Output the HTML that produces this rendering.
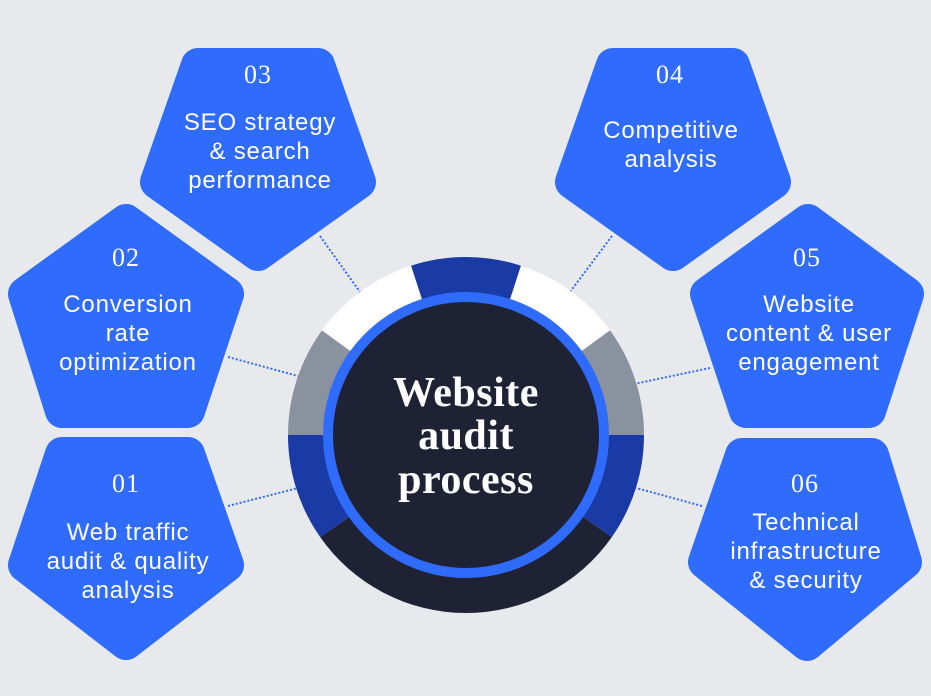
<!DOCTYPE html>
<html><head><meta charset="utf-8"><style>
html,body{margin:0;padding:0;background:#e8e9ed;}
svg{display:block}
.n{font-family:"Liberation Serif",serif;font-size:26px;fill:#fff;text-anchor:middle;letter-spacing:1px}
.t{font-family:"Liberation Sans",sans-serif;font-size:24px;fill:#fff;text-anchor:middle;letter-spacing:0.8px}
.c{font-family:"Liberation Serif",serif;font-weight:bold;font-size:42px;fill:#fff;text-anchor:middle;letter-spacing:0.5px}
</style></head><body>
<svg width="931" height="696" viewBox="0 0 931 696">
<rect width="931" height="696" fill="#e8e9ed"/>
<g fill="#2f6bfd" stroke="#2f6bfd" stroke-width="34" stroke-linejoin="round">
<polygon points="198,65 318,65 359,182 258,254 157,182"/>
<polygon points="613,65 733,65 774,182 673,254 572,182"/>
<polygon points="126,221 227,294 188,411 62,411 25,294"/>
<polygon points="808,221 907,294 869,411 746,411 707,294"/>
<polygon points="62,454 188,454 227,565 126,643 25,565"/>
<polygon points="742,455 872,455 905,562 807,644 705,562"/>
</g>
<g stroke="#2f6bfd" stroke-width="2" stroke-dasharray="2,2">
<line x1="320" y1="236" x2="360" y2="292"/>
<line x1="612" y1="236" x2="570" y2="292"/>
<line x1="228" y1="357" x2="298" y2="376"/>
<line x1="710" y1="368" x2="634" y2="384"/>
<line x1="228" y1="506" x2="298" y2="488"/>
<line x1="702" y1="506" x2="636" y2="488"/>
</g>
<g transform="translate(466,435)">
<path d="M-55,-169.3 A178,178 0 0 1 55,-169.3 L0,0 Z" fill="#1a3aa6"/>
<path d="M55,-169.3 A178,178 0 0 1 144,-104.6 L0,0 Z" fill="#ffffff"/>
<path d="M144,-104.6 A178,178 0 0 1 178,0 L0,0 Z" fill="#8a929f"/>
<path d="M178,0 A178,178 0 0 1 145.8,102.1 L0,0 Z" fill="#1a3aa6"/>
<path d="M145.8,102.1 A178,178 0 0 1 -145.8,102.1 L0,0 Z" fill="#1e2234"/>
<path d="M-145.8,102.1 A178,178 0 0 1 -178,0 L0,0 Z" fill="#1a3aa6"/>
<path d="M-178,0 A178,178 0 0 1 -144,-104.6 L0,0 Z" fill="#8a929f"/>
<path d="M-144,-104.6 A178,178 0 0 1 -55,-169.3 L0,0 Z" fill="#ffffff"/>
<circle r="138" fill="#1e2234" stroke="#2f6bfd" stroke-width="10"/>
</g>
<text class="c" x="466" y="406">Website</text>
<text class="c" x="466" y="449">audit</text>
<text class="c" x="466" y="493">process</text>

<text class="n" x="258" y="83">03</text>
<text class="t" x="260" y="130">SEO strategy</text>
<text class="t" x="260" y="159">&amp; search</text>
<text class="t" x="260" y="188">performance</text>

<text class="n" x="670" y="83">04</text>
<text class="t" x="671" y="138">Competitive</text>
<text class="t" x="671" y="167">analysis</text>

<text class="n" x="126" y="266">02</text>
<text class="t" x="128" y="312">Conversion</text>
<text class="t" x="128" y="341">rate</text>
<text class="t" x="128" y="370">optimization</text>

<text class="n" x="807" y="266">05</text>
<text class="t" x="809" y="312">Website</text>
<text class="t" x="809" y="341">content &amp; user</text>
<text class="t" x="809" y="370">engagement</text>

<text class="n" x="126" y="492">01</text>
<text class="t" x="128" y="540">Web traffic</text>
<text class="t" x="128" y="569">audit &amp; quality</text>
<text class="t" x="128" y="598">analysis</text>

<text class="n" x="805" y="492">06</text>
<text class="t" x="806" y="530">Technical</text>
<text class="t" x="806" y="559">infrastructure</text>
<text class="t" x="806" y="588">&amp; security</text>
</svg>
</body></html>
